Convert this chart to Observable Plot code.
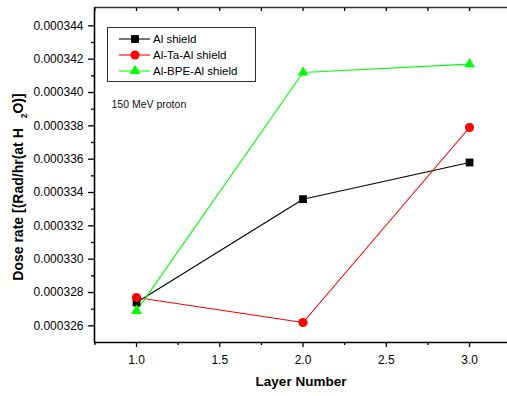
<!DOCTYPE html>
<html><head><meta charset="utf-8">
<script src="https://cdn.jsdelivr.net/npm/d3@7"></script>
<script src="https://cdn.jsdelivr.net/npm/@observablehq/plot@0.6"></script>
<style>
body{margin:0;background:#fff;overflow:hidden;}
#wrap{position:relative;width:507px;height:396px;font-family:"Liberation Sans",Arial,sans-serif;}
#legend{position:absolute;left:107px;top:27px;width:147px;height:53px;border:1px solid #333;background:#fff;}
</style></head>
<body><div id="wrap"></div>
<script>
const layers = [1, 2, 3];
const seriesNames = ["Al shield", "Al-Ta-Al shield", "Al-BPE-Al shield"];
const alShield = [0.0003274, 0.0003336, 0.0003358];
const alTaAl = [0.0003277, 0.0003262, 0.0003379];
const alBpeAl = [0.0003269, 0.0003412, 0.0003417];
const seriesColors = ["#000000", "#ff0000", "#00ff00"];
const seriesSymbols = ["square", "circle", "triangle"];
const seriesR = [4.4, 4.6, 4.0];
const xMajor = [1.0, 1.5, 2.0, 2.5, 3.0];
const xMinor = [0.75, 1.25, 1.75, 2.25, 2.75];
const yMajor = [0.000326, 0.000328, 0.000330, 0.000332, 0.000334, 0.000336, 0.000338, 0.000340, 0.000342, 0.000344];
const yMinor = [0.000327, 0.000329, 0.000331, 0.000333, 0.000335, 0.000337, 0.000339, 0.000341, 0.000343];
const note = "150 MeV proton";
const xLabel = "Layer Number";

const xDom = [0.7477, 3.228];
const yDom = [0.000325, 0.0003451];

const allVals = [alShield, alTaAl, alBpeAl];
const rows = [];
allVals.forEach((vals, i) => vals.forEach((v, j) => rows.push({layer: layers[j], value: v, series: seriesNames[i], idx: i})));

const font = '"Liberation Sans", Arial, sans-serif';
const marks = [];
marks.push(Plot.ruleX([xDom[0]], {stroke: "#000", strokeWidth: 1.6}));
marks.push(Plot.ruleY([yDom[0]], {stroke: "#000", strokeWidth: 1.6}));
marks.push(Plot.ruleY([yDom[1]], {stroke: "#333", strokeWidth: 1.6}));
marks.push(Plot.axisX({ticks: xMajor, tickSize: 5, tickPadding: 8, tickFormat: d3.format(".1f"), fontSize: 12, label: null, strokeWidth: 1.3}));
marks.push(Plot.axisX({ticks: xMinor, tickSize: 3, tickFormat: () => "", label: null, strokeWidth: 1.3}));
marks.push(Plot.axisX({anchor: "top", ticks: xMajor.concat(xMinor), tickSize: -3, tickFormat: () => "", label: null, strokeWidth: 1.3}));
marks.push(Plot.axisY({ticks: yMajor, tickSize: 6, tickPadding: 5, tickFormat: d => d.toFixed(6), fontSize: 12, label: null, strokeWidth: 1.3}));
marks.push(Plot.axisY({ticks: yMinor, tickSize: 3, tickFormat: () => "", label: null, strokeWidth: 1.3}));
seriesNames.forEach((s, i) => {
  marks.push(Plot.line(rows.filter(r => r.idx === i), {x: "layer", y: "value", stroke: seriesColors[i], strokeWidth: 1.1}));
});
seriesNames.forEach((s, i) => {
  marks.push(Plot.dot(rows.filter(r => r.idx === i), {x: "layer", y: "value", fill: seriesColors[i], stroke: "none", symbol: seriesSymbols[i], r: seriesR[i]}));
});
marks.push(Plot.text([note], {frameAnchor: "top-left", dx: 17, dy: 93, text: d => d, fontSize: 10.5, textAnchor: "start", fill: "#111"}));
marks.push(Plot.text([xLabel], {frameAnchor: "bottom", dy: 43, text: d => d, fontSize: 13.5, fontWeight: "bold", fill: "#000"}));
marks.push(Plot.text(["Dose rate [(Rad/hr(at H"], {frameAnchor: "left", dx: -76, dy: 12, rotate: -90, textAnchor: "middle", text: d => d, fontSize: 14, fontWeight: "bold", fill: "#000"}));

const chart = Plot.plot({
  width: 507, height: 396,
  marginLeft: 94, marginRight: 0, marginTop: 7, marginBottom: 54,
  style: {fontFamily: font, background: "#fff", color: "#000", overflow: "visible"},
  x: {domain: xDom},
  y: {domain: yDom},
  marks
});
document.getElementById("wrap").appendChild(chart);

d3.select(chart).selectAll("text").each(function() {
  if (this.textContent === "Dose rate [(Rad/hr(at H") {
    const t = d3.select(this);
    t.append("tspan").attr("dx", 10).attr("dy", 4).attr("font-size", 8.5).text("2");
    t.append("tspan").attr("dy", -4).text("O)]");
  }
});

const leg = d3.select("#wrap").append("div").attr("id", "legend");
const lsvg = leg.append("svg").attr("width", 147).attr("height", 53).style("display", "block");
seriesNames.forEach((s, i) => {
  const cy = 11 + i * 16;
  const g = lsvg.append("g");
  g.append("line").attr("x1", 11).attr("x2", 42).attr("y1", cy).attr("y2", cy).attr("stroke", seriesColors[i]).attr("stroke-width", 1.1);
  const sym = {square: d3.symbolSquare, circle: d3.symbolCircle, triangle: d3.symbolTriangle}[seriesSymbols[i]];
  g.append("path").attr("d", d3.symbol(sym, Math.PI * seriesR[i] * seriesR[i])()).attr("transform", `translate(27,${cy})`).attr("fill", seriesColors[i]);
  g.append("text").attr("x", 45).attr("y", cy).attr("dy", "0.35em").attr("font-size", 11.5).attr("font-family", font).attr("fill", "#000").text(s);
});
</script>
</body></html>
